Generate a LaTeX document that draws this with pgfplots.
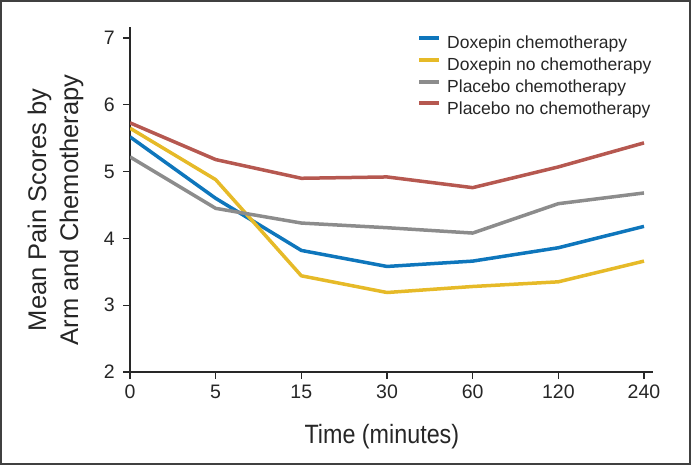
\documentclass[border=0pt]{standalone}
\usepackage{fontspec}
\setmainfont{Liberation Sans}
\newfontfamily\condfont{Liberation Sans}[FakeStretch=0.88]
\usepackage{pgfplots}
\pgfplotsset{compat=1.18}

\definecolor{dblue}{RGB}{14,118,188}
\definecolor{dyellow}{RGB}{230,186,40}
\definecolor{pgray}{RGB}{140,140,140}
\definecolor{pred}{RGB}{182,88,80}
\definecolor{axiscol}{RGB}{40,40,40}

\begin{document}
\begin{tikzpicture}
\useasboundingbox (0,0) rectangle (692pt,465pt);
\draw[line width=2pt, color=black!75] (1pt,1pt) rectangle (690pt,464pt);
\begin{axis}[
    at={(130pt,93pt)}, anchor=south west,
    scale only axis,
    width=523pt, height=345pt,
    xmin=0, xmax=6.105,
    ymin=2, ymax=7.165,
    axis lines*=left,
    axis line style={line width=1.8pt, color=axiscol},
    tick align=outside,
    major tick length=7pt,
    tick style={line width=1.2pt, color=axiscol},
    xtick={0,1,2,3,4,5,6},
    xticklabels={0,5,15,30,60,120,240},
    ytick={2,3,4,5,6,7},
    /pgf/number format/assume math mode=true,
    ticklabel style={font=\fontsize{19.5}{20}\selectfont, color=black!85},
    xticklabel style={anchor=north, inner sep=0pt, yshift=-6pt},
    yticklabel style={anchor=east, inner sep=0pt, xshift=-8pt},
    xlabel={Time (minutes)},
    xlabel style={at={(axis cs:2.94,0.937)}, anchor=base,
        font=\condfont\fontsize{26.5}{28}\selectfont, color=black!85},
    ylabel={Mean Pain Scores by\\Arm and Chemotherapy},
    ylabel style={at={(axis cs:-0.87,4.425)}, anchor=center, align=center,
        font=\fontsize{25.5}{32}\selectfont, color=black!85},
    legend style={at={(axis cs:3.35,7.03)}, anchor=north west,
        draw=none, fill=none, inner sep=0pt, row sep=5pt, column sep=6pt,
        font=\fontsize{17.5}{18}\selectfont, text=black!85,
        nodes={inner sep=0pt, text height=12.5pt, text depth=4pt}},
    legend cell align=left,
    legend image code/.code={\draw[#1, line width=4pt] (0pt,6.5pt) -- (20pt,6.5pt);},
    every axis plot/.append style={line width=3.5pt, line join=round},
]
\addplot[color=dblue] coordinates {(0,5.52)(1,4.60)(2,3.82)(3,3.58)(4,3.66)(5,3.86)(6,4.18)};
\addplot[color=dyellow] coordinates {(0,5.65)(1,4.88)(2,3.44)(3,3.19)(4,3.28)(5,3.35)(6,3.66)};
\addplot[color=pgray] coordinates {(0,5.22)(1,4.45)(2,4.23)(3,4.16)(4,4.08)(5,4.52)(6,4.68)};
\addplot[color=pred] coordinates {(0,5.73)(1,5.18)(2,4.90)(3,4.92)(4,4.76)(5,5.07)(6,5.43)};
\legend{Doxepin chemotherapy, Doxepin no chemotherapy, Placebo chemotherapy, Placebo no chemotherapy}
\end{axis}
\end{tikzpicture}
\end{document}
